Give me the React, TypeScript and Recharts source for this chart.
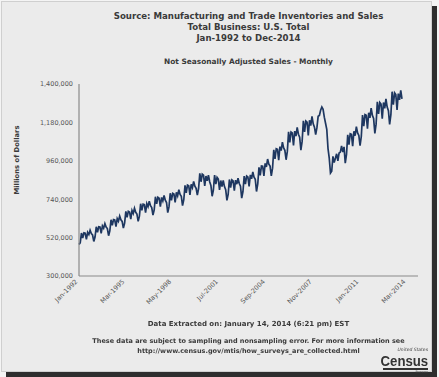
import { LineChart, Line, XAxis, YAxis } from 'recharts';

const monthNames = ['Jan', 'Feb', 'Mar', 'Apr', 'May', 'Jun', 'Jul', 'Aug', 'Sep', 'Oct', 'Nov', 'Dec'];
const firstYear = 1992;
const lastYear = 2014;

// Millions of dollars, Jan-1992 .. Nov-2013
const monthlySales = [
  480000, 491000, 546000, 518000, 547000, 545000, 510000, 550000, 537000, 562000, 543000, 535000, // 1992
  498000, 523000, 582000, 551000, 582000, 581000, 544000, 587000, 574000, 600000, 580000, 572000, // 1993
  531000, 559000, 622000, 590000, 623000, 621000, 583000, 629000, 614000, 643000, 622000, 613000, // 1994
  575000, 603000, 670000, 636000, 671000, 667000, 626000, 675000, 658000, 688000, 665000, 655000, // 1995
  613000, 643000, 714000, 676000, 712000, 709000, 663000, 715000, 697000, 728000, 703000, 692000, // 1996
  649000, 679000, 754000, 713000, 751000, 746000, 697000, 750000, 730000, 761000, 734000, 721000, // 1997
  663000, 696000, 774000, 734000, 774000, 770000, 722000, 779000, 759000, 794000, 767000, 756000, // 1998
  703000, 737000, 819000, 777000, 821000, 817000, 765000, 825000, 806000, 842000, 814000, 802000, // 1999
  763000, 800000, 888000, 840000, 884000, 878000, 816000, 873000, 846000, 878000, 840000, 819000, // 2000
  757000, 792000, 878000, 826000, 865000, 855000, 793000, 847000, 812000, 848000, 812000, 794000, // 2001
  733000, 768000, 853000, 807000, 851000, 845000, 789000, 849000, 826000, 861000, 830000, 815000, // 2002
  746000, 784000, 872000, 826000, 873000, 868000, 814000, 879000, 857000, 896000, 866000, 854000, // 2003
  784000, 827000, 922000, 877000, 930000, 929000, 873000, 945000, 925000, 970000, 941000, 930000, // 2004
  873000, 918000, 1023000, 971000, 1029000, 1026000, 964000, 1041000, 1019000, 1067000, 1034000, 1020000, // 2005
  966000, 1014000, 1126000, 1066000, 1125000, 1120000, 1048000, 1130000, 1102000, 1151000, 1112000, 1095000, // 2006
  1021000, 1071000, 1189000, 1126000, 1188000, 1181000, 1106000, 1192000, 1162000, 1214000, 1172000, 1153000, // 2007
  1110000, 1150000, 1215000, 1220000, 1250000, 1268000, 1255000, 1210000, 1175000, 1140000, 1030000, 975000, // 2008
  890000, 900000, 985000, 950000, 975000, 1000000, 960000, 1005000, 1010000, 1045000, 1010000, 1040000, // 2009
  946000, 996000, 1109000, 1053000, 1115000, 1112000, 1044000, 1129000, 1104000, 1156000, 1120000, 1105000, // 2010
  1047000, 1099000, 1222000, 1159000, 1225000, 1221000, 1144000, 1235000, 1206000, 1262000, 1220000, 1202000, // 2011
  1117000, 1170000, 1298000, 1228000, 1294000, 1285000, 1202000, 1294000, 1260000, 1315000, 1268000, 1247000, // 2012
  1169000, 1224000, 1356000, 1281000, 1349000, 1339000, 1251000, 1345000, 1309000, 1364000, 1315000, // 2013
];

const yTicks = [300000, 520000, 740000, 960000, 1180000, 1400000];

const data: { month: string; sales: number | null }[] = [];
for (let y = firstYear; y <= lastYear; y++) {
  monthNames.forEach((m) => {
    const i = data.length;
    data.push({ month: `${m}-${y}`, sales: i < monthlySales.length ? monthlySales[i] : null });
  });
}

const font = '"DejaVu Sans", Verdana, sans-serif';
const textColor = '#3a3a3a';
const frameStroke = { stroke: '#8a8a8a', strokeWidth: 1.2 };

const XTick = ({ x, y, payload }: any) => (
  <text
    x={x - 1}
    y={y + 2}
    transform={`rotate(-45 ${x - 1} ${y + 2})`}
    textAnchor="end"
    fontSize={6.5}
    fontFamily={font}
    fill="#555"
  >
    {payload.value}
  </text>
);

const center = (top: number, size: number): React.CSSProperties => ({
  position: 'absolute',
  left: 40,
  width: 417,
  top,
  textAlign: 'center',
  fontSize: size,
  fontWeight: 'bold',
  color: textColor,
  lineHeight: 1.25,
  whiteSpace: 'nowrap',
});

export default function App() {
  return (
    <div
      style={{
        position: 'fixed',
        left: 0,
        top: 0,
        width: 439,
        height: 377,
        background: '#f4f4f4',
        fontFamily: font,
      }}
    >
      <div
        style={{
          position: 'absolute',
          left: 1,
          top: 1,
          width: 429,
          height: 369,
          background: '#ebebeb',
          border: '1px solid #cfcfcf',
          boxShadow: '5px 5px 0 #2e2e2e',
        }}
      />
      <div style={{ ...center(11, 8.6), lineHeight: '11px' }}>
        Source: Manufacturing and Trade Inventories and Sales
        <br />
        Total Business: U.S. Total
        <br />
        Jan-1992 to Dec-2014
      </div>
      <div style={center(57, 7.4)}>Not Seasonally Adjusted Sales - Monthly</div>

      <div
        style={{
          position: 'absolute',
          left: 17,
          top: 160,
          transform: 'translate(-50%, -50%) rotate(-90deg)',
          fontSize: 6.8,
          fontWeight: 'bold',
          color: textColor,
          whiteSpace: 'nowrap',
        }}
      >
        Millions of Dollars
      </div>

      <div style={{ position: 'absolute', left: 0, top: 0 }}>
        <LineChart width={439} height={377} data={data} margin={{ top: 84, right: 21, bottom: 0, left: 0 }}>
          <XAxis
            dataKey="month"
            interval={37}
            height={101}
            tickLine={false}
            tickSize={0}
            tickMargin={4}
            tick={<XTick />}
            axisLine={frameStroke}
          />
          <XAxis xAxisId="top" orientation="top" height={0} tick={false} tickLine={false} axisLine={frameStroke} />
          <YAxis
            domain={[300000, 1400000]}
            ticks={yTicks}
            width={79}
            tickLine={false}
            tickSize={0}
            tickMargin={6}
            tickFormatter={(v: number) => v.toLocaleString('en-US')}
            tick={{ fontSize: 6.5, fill: '#555', fontFamily: font }}
            axisLine={frameStroke}
          />
          <YAxis yAxisId="right" orientation="right" width={0} tick={false} tickLine={false} axisLine={frameStroke} />
          <Line
            type="linear"
            dataKey="sales"
            stroke="#1e3760"
            strokeWidth={1.7}
            dot={false}
            isAnimationActive={false}
          />
        </LineChart>
      </div>

      <div style={center(320, 7)}>Data Extracted on: January 14, 2014 (6:21 pm) EST</div>
      <div style={{ ...center(336, 6.5), lineHeight: '10px' }}>
        These data are subject to sampling and nonsampling error. For more information see
        <br />
        http://www.census.gov/mtis/how_surveys_are_collected.html
      </div>

      {/* Census Bureau mark */}
      <div
        style={{
          position: 'absolute',
          right: 11,
          top: 347,
          fontSize: 4.5,
          fontStyle: 'italic',
          lineHeight: '5px',
          color: '#444',
          whiteSpace: 'nowrap',
        }}
      >
        United States
      </div>
      <div
        style={{
          position: 'absolute',
          right: 11,
          top: 353,
          fontSize: 15,
          fontWeight: 'bold',
          lineHeight: '15px',
          whiteSpace: 'nowrap',
          color: '#333',
          fontFamily: '"Liberation Sans", Arial, sans-serif',
          transform: 'scaleX(0.88)',
          transformOrigin: 'right center',
        }}
      >
        Census
      </div>
      <div style={{ position: 'absolute', left: 383, width: 45, top: 368, height: 2, background: '#333' }} />
      <div
        style={{
          position: 'absolute',
          right: 11,
          top: 370,
          fontSize: 3.5,
          lineHeight: '4px',
          color: '#444',
          whiteSpace: 'nowrap',
        }}
      >
        Bureau
      </div>
    </div>
  );
}
